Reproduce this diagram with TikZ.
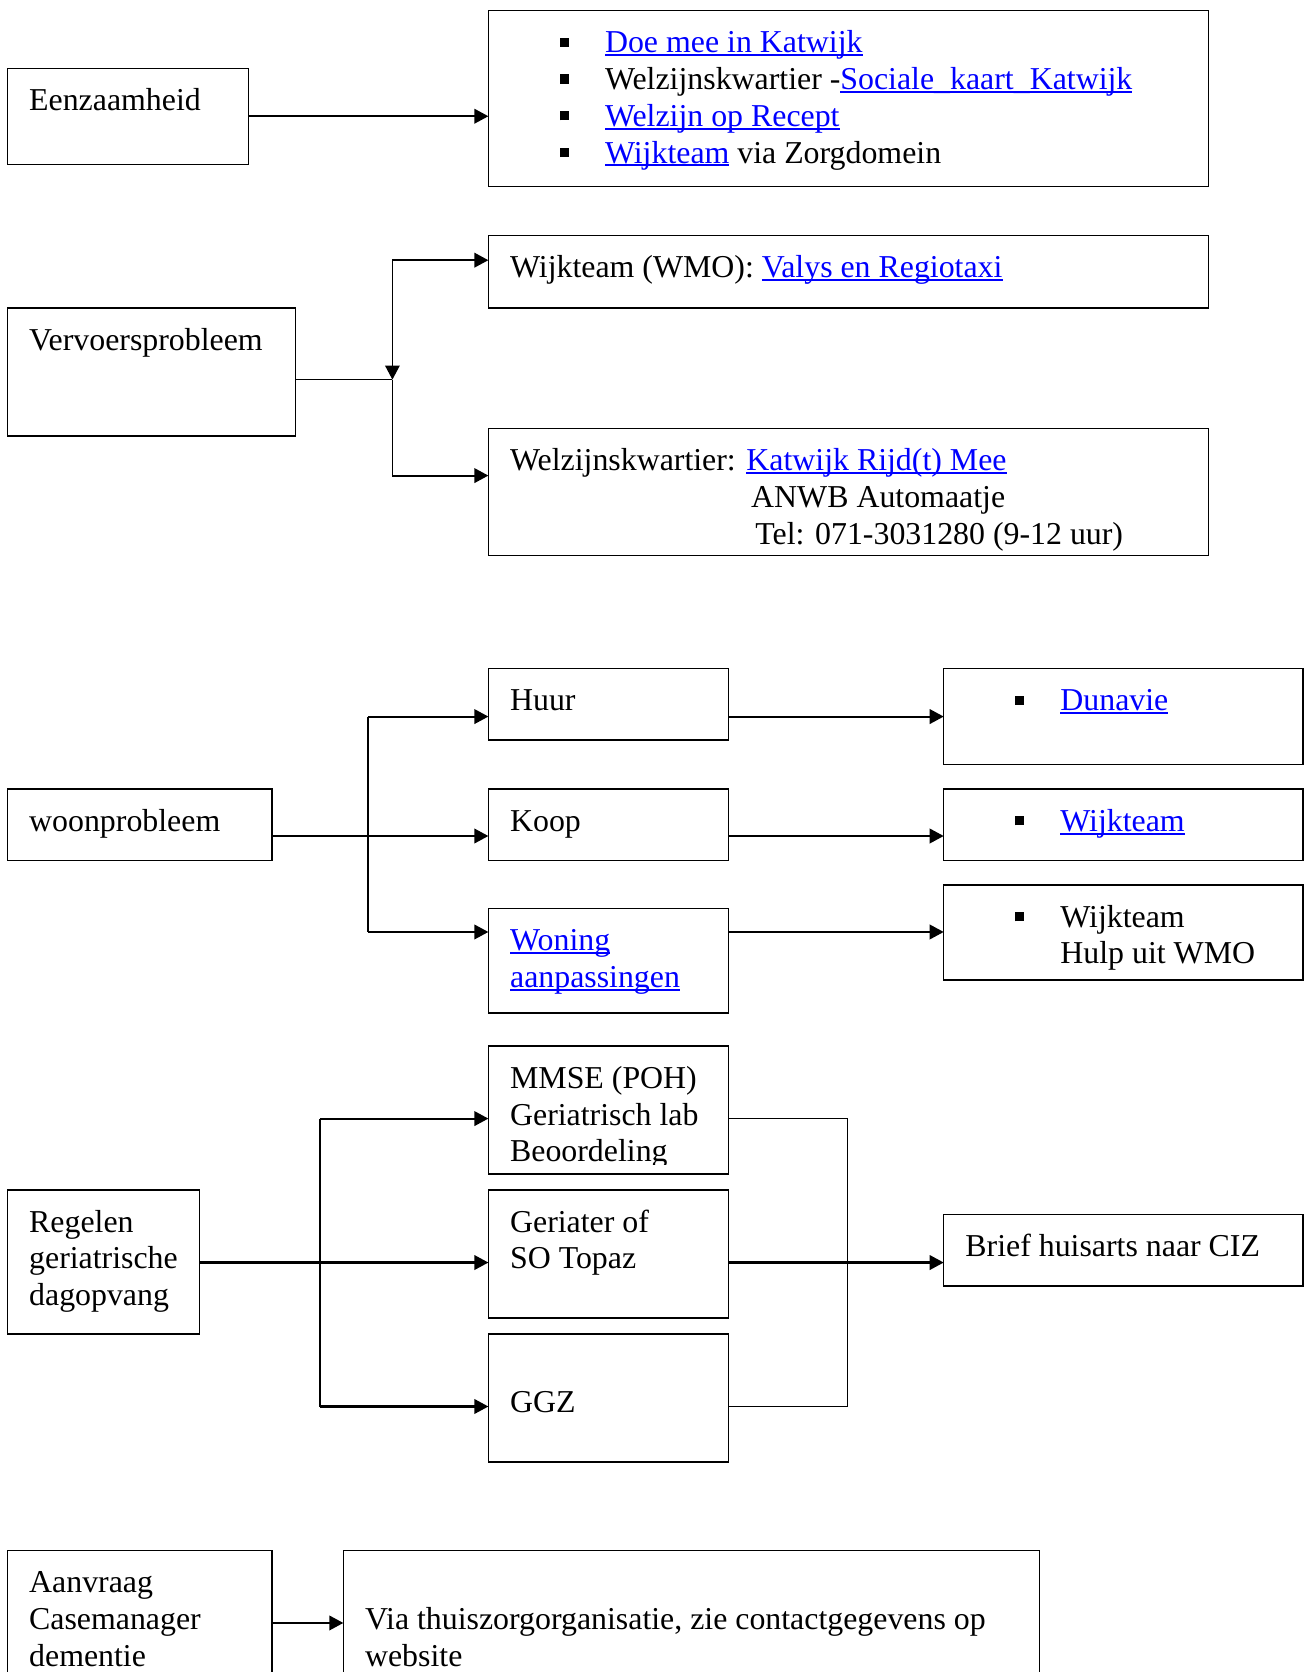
\documentclass[tikz,border=0pt]{standalone}
\usepackage{fontspec}
\setmainfont{Liberation Serif}
\usetikzlibrary{arrows.meta}
\definecolor{linkblue}{RGB}{0,0,255}
\newcommand{\fs}{\fontsize{12.75pt}{14.7pt}\selectfont}
\newcommand{\lnk}[1]{\setbox0\hbox{{\color{linkblue}#1}}\rlap{\textcolor{linkblue}{\rule[-1.3pt]{\wd0}{0.75pt}}}\box0\relax}
\newcommand{\bul}{\makebox[18.1pt][l]{\rule[2.4pt]{3.7pt}{3.7pt}}}
\tikzset{
  box/.style = {draw, line width=0.55pt, anchor=north west, inner sep=0pt,
    outer sep=0pt},% kader
  txt/.style = {anchor=north west, inner sep=0pt, align=left, font=\fs,
    xshift=8.5pt, yshift=-6.4pt},% tekst in kader
  lst/.style = {anchor=north west, inner sep=0pt, align=left, font=\fs,
    xshift=28.4pt, yshift=-6.4pt},% opsomming in kader
  arr/.style = {-{Triangle[length=5.6pt,width=5.8pt]}, line width=0.85pt},
  ln/.style = {line width=0.55pt}
}
\begin{document}
\begin{tikzpicture}[x=0.015cm,y=-0.015cm]
\useasboundingbox (0,0) rectangle (1224,1568);
% eenzaamheid
\node [box, minimum width=3.39cm, minimum height=1.35cm] (eenz) at (7,64) {};
\node [box, minimum width=10.125cm, minimum height=2.475cm] (lijst) at (458,10) {};
\node [txt] (eenzT) at (eenz.north west) {\strut Eenzaamheid};
\node [lst] (lijstT) at (lijst.north west) {\strut\bul\lnk{Doe mee in Katwijk}\\
  \bul Welzijnskwartier -\lnk{Sociale\_kaart\_Katwijk}\\
  \bul\lnk{Welzijn op Recept}\\
  \bul\lnk{Wijkteam} via Zorgdomein};
\draw [arr] (eenz.east) -- (eenz.east -| lijst.west);

% vervoer
\node [box, minimum width=4.05cm, minimum height=1.8cm] (verv) at (7,289) {};
\node [box, minimum width=10.125cm, minimum height=1.02cm] (wmo) at (458,221) {};
\node [box, minimum width=10.125cm, minimum height=1.785cm] (welz) at (458,402) {};
\node [txt] (vervT) at (verv.north west) {\strut Vervoersprobleem};
\node [txt] (wmoT) at (wmo.north west) {\strut Wijkteam (WMO): \lnk{Valys en Regiotaxi}};
\node [txt] (welzT) at (welz.north west) {\strut Welzijnskwartier: \lnk{Katwijk Rijd(t) Mee}\\
  \hspace*{96.5pt}ANWB Automaatje\\
  \hspace*{98.2pt}Tel: 071-3031280 (9-12 uur)};
\coordinate (vt) at (368,244);
\coordinate (vj) at (368,356);
\coordinate (vb) at (368,446);
\draw [ln] (vj -| verv.east) -- (vj);
\draw [arr, line width=0.55pt] (vt) -- (vj);
\draw [ln] (vj) -- (vb);
\draw [arr] (vt) -- (vt -| wmo.west);
\draw [arr] (vb) -- (vb -| welz.west);

% wonen
\node [box, minimum width=3.72cm, minimum height=1.005cm] (woon) at (7,740) {};
\node [box, minimum width=3.375cm, minimum height=1.005cm] (huur) at (458,627) {};
\node [box, minimum width=3.375cm, minimum height=1.005cm] (koop) at (458,740) {};
\node [box, minimum width=3.375cm, minimum height=1.47cm] (won) at (458,852) {};
\node [box, minimum width=5.055cm, minimum height=1.35cm] (duna) at (885,627) {};
\node [box, minimum width=5.055cm, minimum height=1.005cm] (wijk) at (885,740) {};
\node [box, minimum width=5.055cm, minimum height=1.335cm] (hulp) at (885,830) {};
\node [txt] (woonT) at (woon.north west) {\strut woonprobleem};
\node [txt] (huurT) at (huur.north west) {\strut Huur};
\node [txt] (koopT) at (koop.north west) {\strut Koop};
\node [txt] (wonT) at (won.north west) {\strut\lnk{Woning}\\\lnk{aanpassingen}};
\node [lst] (dunaT) at (duna.north west) {\strut\bul\lnk{Dunavie}};
\node [lst] (wijkT) at (wijk.north west) {\strut\bul\lnk{Wijkteam}};
\node [lst] (hulpT) at (hulp.north west) {\strut\bul Wijkteam\\\hspace*{18.1pt}Hulp uit WMO};
\coordinate (w1) at (345,672);
\coordinate (w2) at (345,784);
\coordinate (w3) at (345,874);
\draw [ln] (w1) -- (w3);
\draw [ln] (w2 -| woon.east) -- (w2);
\draw [arr] (w2) -- (w2 -| koop.west);
\draw [arr] (w1) -- (w1 -| huur.west);
\draw [arr] (w3) -- (w3 -| won.west);
\draw [arr] (w1 -| huur.east) -- (w1 -| duna.west);
\draw [arr] (w2 -| koop.east) -- (w2 -| wijk.west);
\draw [arr] (w3 -| won.east) -- (w3 -| hulp.west);

% dagopvang
\node [box, minimum width=2.7cm, minimum height=2.025cm] (reg) at (7,1116) {};
\node [box, minimum width=3.375cm, minimum height=1.8cm] (mmse) at (458,981) {};
\node [box, minimum width=3.375cm, minimum height=1.8cm] (ger) at (458,1116) {};
\node [box, minimum width=3.375cm, minimum height=1.8cm] (ggz) at (458,1251) {};
\node [box, minimum width=5.055cm, minimum height=1.005cm] (brief) at (885,1139) {};
\node [txt] (regT) at (reg.north west) {\strut Regelen\\geriatrische\\dagopvang};
\begin{scope}
\clip (458,981) rectangle (683,1092);
\node [txt] (mmseT) at (mmse.north west) {\strut MMSE (POH)\\Geriatrisch lab\\Beoordeling};
\end{scope}
\node [txt] (gerT) at (ger.north west) {\strut Geriater of\\SO Topaz};
\node [txt] (ggzT) at (ggz.north west) {\strut\\GGZ};
\node [txt] (briefT) at (brief.north west) {\strut Brief huisarts naar CIZ};
\coordinate (r1) at (300,1049);
\coordinate (r2) at (300,1184);
\coordinate (r3) at (300,1319);
\coordinate (q1) at (795,1049);
\coordinate (q2) at (795,1184);
\coordinate (q3) at (795,1319);
\draw [ln] (r1) -- (r3);
\draw [ln] (q1) -- (q3);
\draw [arr] (r2 -| reg.east) -- (r2 -| ger.west);
\draw [arr] (r1) -- (r1 -| mmse.west);
\draw [arr] (r3) -- (r3 -| ggz.west);
\draw [ln] (q1 -| mmse.east) -- (q1);
\draw [ln] (q3 -| ggz.east) -- (q3);
\draw [arr] (q2 -| ger.east) -- (q2 -| brief.west);

% casemanager
\node [box, minimum width=3.72cm, minimum height=2.19cm] (aan) at (7,1454) {};
\node [box, minimum width=9.795cm, minimum height=2.19cm] (via) at (322,1454) {};
\node [txt] (aanT) at (aan.north west) {\strut Aanvraag\\Casemanager\\dementie};
\node [txt] (viaT) at (via.north west) {\strut\\Via thuiszorgorganisatie, zie contactgegevens op\\website};
\coordinate (a1) at (290,1522);
\draw [arr] (a1 -| aan.east) -- (a1 -| via.west);
\end{tikzpicture}
\end{document}
